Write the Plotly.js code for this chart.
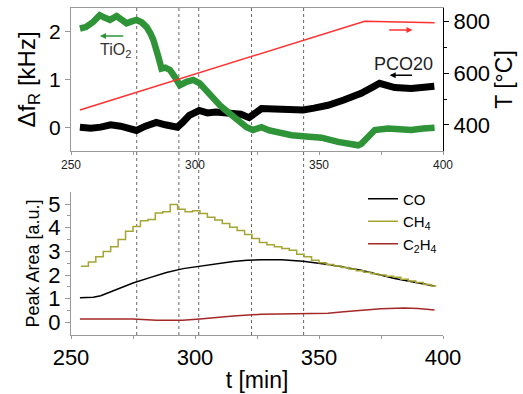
<!DOCTYPE html>
<html>
<head>
<meta charset="utf-8">
<script src="https://cdn.plot.ly/plotly-3.0.1.min.js"></script>
<style>html,body{margin:0;padding:0;background:#fff}#chart{width:523px;height:394px}</style>
</head>
<body>
<div id="chart"></div>
<script>
// ---- Top panel: resonance frequency shift (kHz) ----
const pcoTime = [253.6,258,262,266,270,273,276.4,280,284.4,288,292.9,295,297.7,301.7,305,308.4,312,315,318.5,321.8,324,326.8,332,337,343.6,348,353.6,360,367,372,374.4,377,380.5,387.2,392,396.5];
const pcoShift = [0.0,-0.02,0.0,0.05,0.02,-0.03,-0.07,0.02,0.1,0.05,0.0,0.1,0.25,0.35,0.3,0.32,0.3,0.3,0.27,0.2,0.3,0.39,0.38,0.37,0.36,0.4,0.46,0.57,0.71,0.85,0.92,0.88,0.83,0.81,0.84,0.86];

const tioTime = [253.6,256,259,261.6,263.5,265.7,268.4,270,272.4,274.5,276.4,278.5,280.5,282,283.2,285.2,286.5,288,289.9,291.9,293.9,296.6,299.3,301.9,304,306,308,310,312.5,315.4,318,320.8,323.4,326.8,330,334.9,339,343.6,351,357.7,362,365.8,367.1,370,372.5,377.8,382,387.2,392,396.6];
const tioShift = [2.07,2.1,2.21,2.35,2.3,2.25,2.33,2.28,2.18,2.22,2.25,2.2,2.1,1.97,1.83,1.48,1.23,1.25,1.2,1.05,0.88,0.95,0.99,0.92,0.8,0.67,0.56,0.46,0.35,0.22,0.1,0.0,-0.06,0.0,-0.07,-0.13,-0.17,-0.19,-0.22,-0.31,-0.33,-0.38,-0.35,-0.18,-0.06,-0.03,-0.05,-0.06,-0.03,-0.01];

const tempTime = [253.6,368.4,396.6];
const tempC = [458,802,796];

// ---- Bottom panel: GC peak areas ----
const coTime = [253.6,259,262,265.7,270,275,281.8,288.5,295.2,301.9,308.6,315.4,321,326.8,334.9,343.6,353.6,367,380.5,396.6];
const coArea = [1.04,1.06,1.12,1.28,1.45,1.66,1.89,2.11,2.27,2.37,2.48,2.57,2.62,2.65,2.65,2.58,2.45,2.2,1.85,1.53];

const ch4Time = [254,257,260,263,266,269,272,275,278,281,284,287,290,293,296,299,302,305,308,311,314,317,320,323,326,329,332,335,338,341,344,347,350,353,356,359,362,365,368,371,374,377,380,383,386,389,392,395,397];
const ch4Area = [2.37,2.55,2.77,3.0,3.2,3.5,3.85,4.05,4.3,4.35,4.62,4.68,4.98,4.78,4.68,4.72,4.6,4.45,4.33,4.18,4.02,3.88,3.72,3.55,3.38,3.28,3.2,3.12,3.05,2.88,2.77,2.62,2.52,2.45,2.38,2.32,2.25,2.18,2.12,2.05,2.0,1.95,1.9,1.82,1.75,1.68,1.6,1.53,1.5];

const c2h4Time = [253.6,265,275,284.5,295,302,308,315.4,326.8,335,343.6,353.6,360,367,375,384.4,390,396.6];
const c2h4Area = [0.14,0.14,0.14,0.08,0.08,0.14,0.18,0.26,0.34,0.36,0.38,0.38,0.44,0.5,0.57,0.6,0.58,0.52];

// Event markers (dotted lines, min)
const eventTimes = [276.5,293.5,301.5,322.8,343.8];

const FONT = 'Liberation Sans, Arial, sans-serif';

const traces = [
  {x: pcoTime, y: pcoShift, xaxis:'x', yaxis:'y', mode:'lines', line:{color:'#000', width:7}, showlegend:false, name:'PCO20'},
  {x: tioTime, y: tioShift, xaxis:'x', yaxis:'y', mode:'lines', line:{color:'#2e9437', width:6.5}, showlegend:false, name:'TiO2'},
  {x: tempTime, y: tempC, xaxis:'x', yaxis:'y3', mode:'lines', line:{color:'#ff3030', width:1.5}, showlegend:false, name:'T'},
  {x: coTime, y: coArea, xaxis:'x2', yaxis:'y2', mode:'lines', line:{color:'#000', width:1.5, shape:'linear'}, name:'CO'},
  {x: ch4Time, y: ch4Area, xaxis:'x2', yaxis:'y2', mode:'lines', line:{color:'#a5a534', width:1.5, shape:'hv'}, name:'CH<sub>4</sub>'},
  {x: c2h4Time, y: c2h4Area, xaxis:'x2', yaxis:'y2', mode:'lines', line:{color:'#a52828', width:1.5}, name:'C<sub>2</sub>H<sub>4</sub>'}
];

const shapes = eventTimes.map(t => ({type:'line', xref:'x', yref:'paper', x0:t, x1:t, y0:0, y1:1, line:{color:'#666', width:1, dash:'dot'}, layer:'below'}));

const layout = {
  width:523, height:394,
  margin:{l:71, r:80, t:8, b:59},
  paper_bgcolor:'#fff', plot_bgcolor:'rgba(0,0,0,0)',
  font:{family:FONT, color:'#000'},
  showlegend:true,
  legend:{x:0.785, y:0.466, xanchor:'left', yanchor:'top', font:{size:15, family:FONT}, bgcolor:'rgba(0,0,0,0)', tracegroupgap:0, itemwidth:30},
  xaxis:{domain:[0,1], anchor:'y', range:[250,400], tickvals:[250,300,350,400], showgrid:false, zeroline:false,
         showline:true, linecolor:'#999', mirror:true, ticks:'outside', ticklen:3, tickcolor:'#999',
         minor:{tickvals:[275,325,375], ticks:'outside', ticklen:3, tickcolor:'#999'},
         tickfont:{size:12, color:'#222'}},
  yaxis:{domain:[0.5627,1], anchor:'x', range:[-0.5,2.5], tickvals:[0,1,2], showgrid:false, zeroline:false,
         showline:true, linecolor:'#999', ticks:'outside', ticklen:5, tickcolor:'#999',
         tickfont:{size:21}, title:{text:'Δf<sub>R</sub> [kHz]', font:{size:24}, standoff:6}},
  yaxis3:{overlaying:'y', side:'right', anchor:'x', range:[299,853], tickvals:[400,600,800], showgrid:false, zeroline:false,
         showline:true, linecolor:'#000', ticks:'outside', ticklen:5, tickcolor:'#000',
         minor:{tickvals:[500,700], ticks:'outside', ticklen:3, tickcolor:'#000'},
         tickfont:{size:22}, title:{text:'T [°C]', font:{size:23}, standoff:6}},
  xaxis2:{domain:[0,1], anchor:'y2', range:[250,400], tickvals:[250,300,350,400], showgrid:false, zeroline:false,
         showline:true, linecolor:'#999', ticks:'outside', ticklen:3, tickcolor:'#999',
         minor:{tickvals:[275,325,375], ticks:'outside', ticklen:3, tickcolor:'#999'},
         tickfont:{size:22}, title:{text:'t [min]', font:{size:23}, standoff:2}},
  xaxis3:{overlaying:'x2', anchor:'y2', side:'top', range:[250,400], tickvals:[250,275,300,325,350,375,400], showticklabels:false,
         showgrid:false, zeroline:false, showline:true, linecolor:'#999', ticks:'inside', ticklen:4, tickcolor:'#999'},
  yaxis2:{domain:[0,0.437], anchor:'x2', range:[-0.54,5.51], tickvals:[0,1,2,3,4,5], showgrid:false, zeroline:false,
         showline:true, linecolor:'#999', ticks:'outside', ticklen:5, tickcolor:'#999',
         minor:{tickvals:[0.5,1.5,2.5,3.5,4.5], ticks:'outside', ticklen:3, tickcolor:'#999'},
         tickfont:{size:22}, title:{text:'Peak Area [a.u.]', font:{size:18}, standoff:4}},
  yaxis4:{overlaying:'y2', anchor:'x2', side:'right', range:[-0.54,5.51], tickvals:[0,0.5,1,1.5,2,2.5,3,3.5,4,4.5,5], showticklabels:false,
         showgrid:false, zeroline:false, showline:true, linecolor:'#999', ticks:'inside', ticklen:4, tickcolor:'#999'},
  shapes: shapes,
  annotations:[
    {xref:'x', yref:'y', x:261.7, y:1.91, ax:271.7, ay:1.91, axref:'x', ayref:'y', showarrow:true, arrowhead:2, arrowsize:0.8, arrowwidth:1.5, arrowcolor:'#2e9437', text:''},
    {xref:'x', yref:'y', x:268, y:1.6, text:'TiO<sub>2</sub>', showarrow:false, font:{size:16, color:'#333'}},
    {xref:'x', yref:'y3', x:387.7, y:768, ax:377.7, ay:768, axref:'x', ayref:'y3', showarrow:true, arrowhead:2, arrowsize:0.8, arrowwidth:1.5, arrowcolor:'#ff3030', text:''},
    {xref:'x', yref:'y', x:378.5, y:1.09, ax:388.1, ay:1.09, axref:'x', ayref:'y', showarrow:true, arrowhead:2, arrowsize:0.8, arrowwidth:1.5, arrowcolor:'#000', text:''},
    {xref:'x', yref:'y', x:384, y:1.32, text:'PCO20', showarrow:false, font:{size:18, color:'#222'}}
  ]
};

Plotly.newPlot('chart', traces, layout, {staticPlot:true, displayModeBar:false});
</script>
</body>
</html>
